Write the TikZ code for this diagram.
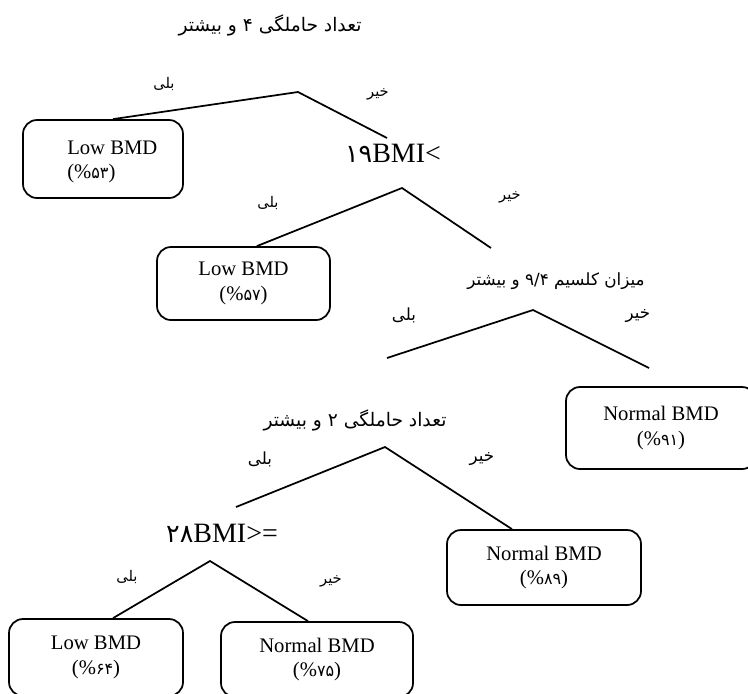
\documentclass[tikz,border=0pt]{standalone}
\usepackage{fontspec}
\setmainfont{Liberation Serif}
\newfontfamily\fa[Script=Arabic]{DejaVu Sans}
\TeXXeTstate=1
\begin{document}
\begin{tikzpicture}[x=0.75pt,y=-0.75pt,
  leaf/.style={draw, line width=1.3pt, rounded corners=10.5pt, align=center,
    font=\fontsize{15.5}{18.6}\selectfont, inner sep=0pt},
  edge/.style={line width=1.3pt},
  cond/.style={font=\fa\fontsize{14}{16}\selectfont, inner sep=0pt},
  bmi/.style={font=\fontsize{21}{24}\selectfont, inner sep=0pt, anchor=base},
  ans/.style={font=\fa\fontsize{11}{13}\selectfont, inner sep=0pt},
  bigans/.style={ans, font=\fa\fontsize{12.5}{14}\selectfont}]
\newcommand{\pd}[1]{{\fa\fontsize{12}{14}\selectfont #1}}
\clip (0,0) rectangle (748,693);
\fill[white] (0,0) rectangle (748,693);

% condition texts
\node[cond] (q1) at (270,25) {\beginR تعداد حاملگی ۴ و بیشتر\endR};
\node[bmi] (q2) at (393,162) {\pd{\fontsize{19}{21}\selectfont ۱۹}BMI<};
\node[cond, font=\fa\fontsize{12.6}{15}\selectfont] (q3) at (556,281) {\beginR میزان کلسیم \beginL۹/۴\endL{} و بیشتر\endR};
\node[cond] (q4) at (355,420) {\beginR تعداد حاملگی ۲ و بیشتر\endR};
\node[bmi] (q5) at (222,542) {\pd{\fontsize{19}{21}\selectfont ۲۸}BMI>=};

% leaves
\node[leaf, minimum width=120pt, minimum height=58.5pt] (b1) at (103,159) {};
\node[anchor=west, align=left, inner sep=0pt, font=\fontsize{15.5}{18.6}\selectfont]
  (t1) at (67,162) {Low BMD\\(\%\pd{۵۳})};
\node[leaf, minimum width=129.75pt, minimum height=54.75pt] (b2) at (243.5,283.5) {Low BMD\\(\%\pd{۵۷})};
\node[leaf, minimum width=142.5pt, minimum height=61.5pt] (b3) at (661,428) {Normal BMD\\(\%\pd{۹۱})};
\node[leaf, minimum width=145.5pt, minimum height=56.25pt] (b4) at (544,567.5) {Normal BMD\\(\%\pd{۸۹})};
\node[leaf, minimum width=130.5pt, minimum height=57.75pt] (b5) at (96,657.5) {Low BMD\\(\%\pd{۶۴})};
\node[leaf, minimum width=144pt, minimum height=56.25pt] (b6) at (317,659.5) {Normal BMD\\(\%\pd{۷۵})};

% split apexes and free ends
\coordinate (a1) at (298,92);
\coordinate (e1) at (387,138);
\coordinate (a2) at (402,188);
\coordinate (e2) at (491,248);
\coordinate (a3) at (533,310);
\coordinate (e3l) at (387,358);
\coordinate (e3r) at (649,368);
\coordinate (a4) at (385,447);
\coordinate (e4l) at (236,507);
\coordinate (a5) at (210,561);

\draw[edge] ([xshift=7.5pt]b1.north) -- (a1) -- (e1);
\draw[edge] ([xshift=10pt]b2.north) -- (a2) -- (e2);
\draw[edge] (e3l) -- (a3) -- (e3r);
\draw[edge] (e4l) -- (a4) -- ([xshift=-24pt]b4.north);
\draw[edge] ([xshift=12.75pt]b5.north) -- (a5) -- ([xshift=-6.75pt]b6.north);

% answers
\node[ans] (y1) at (164,84) {\beginR بلی\endR};
\node[ans] (n1) at (378,94) {\beginR خیر\endR};
\node[ans] (y2) at (268,203) {\beginR بلی\endR};
\node[ans] (n2) at (510,197) {\beginR خیر\endR};
\node[bigans] (y3) at (404,315) {\beginR بلی\endR};
\node[bigans] (n3) at (638,316) {\beginR خیر\endR};
\node[bigans] (y4) at (260,459) {\beginR بلی\endR};
\node[bigans] (n4) at (482,459) {\beginR خیر\endR};
\node[ans] (y5) at (127,577) {\beginR بلی\endR};
\node[ans] (n5) at (331,581) {\beginR خیر\endR};
\end{tikzpicture}
\end{document}
